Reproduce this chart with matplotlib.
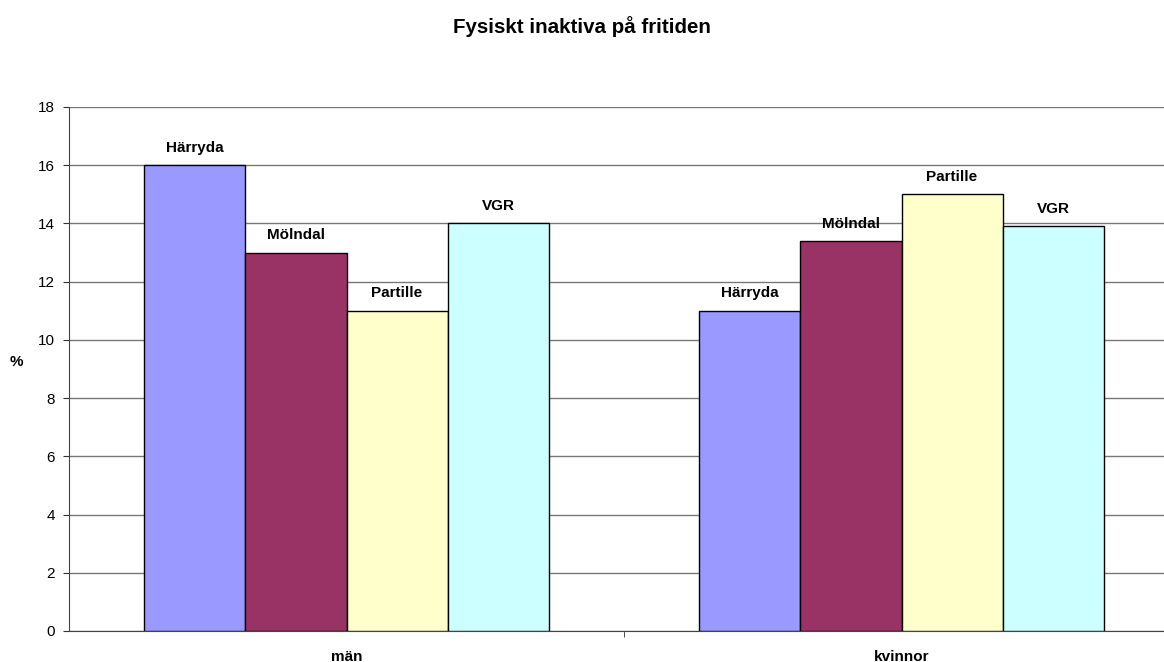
#!/usr/bin/env python3
# -*- coding: utf-8 -*
"""Fysiskt inaktiva på fritiden - grouped bar chart"""

import numpy as np
import matplotlib
matplotlib.use("Agg")
import matplotlib.pyplot as plt

plt.rcParams['font.family'] = ['Liberation Sans', 'DejaVu Sans']

# Data
categories = ["män", "kvinnor"]
seriesNames = ["Härryda", "Mölndal", "Partille", "VGR"]
valHarryda = [16.0, 11.0]
valMolndal = [13.0, 13.4]
valPartille = [11.0, 15.0]
valVGR = [14.0, 13.9]
yTicks = [0, 2, 4, 6, 8, 10, 12, 14, 16, 18]

seriesVals = [valHarryda, valMolndal, valPartille, valVGR]
seriesCols = ["#9999FF", "#993366", "#FFFFCC", "#CCFFFF"]

# Plot
fig = plt.figure(figsize=(11.64, 6.62), dpi=100)
ax = fig.add_axes([69/1164, 1-631/662, 1110/1164, 524/662])

nSer = len(seriesVals)
barW = 0.182
xPos = np.arange(len(categories))
for i in range(nSer):
    offs = (i - (nSer-1)/2)*barW
    bars = ax.bar(xPos + offs, seriesVals[i], width=barW, color=seriesCols[i],
                  edgecolor="black", linewidth=1.0, zorder=3)
    for b in bars:
        ax.annotate(seriesNames[i], (b.get_x() + b.get_width()/2, b.get_height()),
                    xytext=(0, 9.6), textcoords="offset points", ha="center",
                    va="baseline", fontsize=11, fontweight="bold", zorder=4)

ax.set_xlim(-0.5, len(categories) - 0.5)
ax.set_ylim(0, 18)
ax.set_yticks(yTicks)
ax.yaxis.grid(True, color="#777777", linewidth=1.0, zorder=0)
ax.set_axisbelow(True)

ax.set_xticks(xPos)
ax.set_xticklabels(categories, fontsize=11, fontweight="bold")
ax.tick_params(axis="x", length=0, pad=13.5)
ax.set_xticks([0.5], minor=True)
ax.tick_params(axis="x", which="minor", length=4, direction="out", color="#333333")
ax.tick_params(axis="y", length=4, direction="out", labelsize=11, color="#333333", pad=6)

for side in ["top", "right"]:
    ax.spines[side].set_visible(False)
ax.spines["left"].set_color("#444444")
ax.spines["bottom"].set_color("#444444")

fig.text(16/1164, 1-362/662, "%", ha="center", va="center",
         fontsize=11, fontweight="bold")

fig.text(0.5, 1-27/662, "Fysiskt inaktiva på fritiden", ha="center", va="center",
         fontsize=14.8, fontweight="bold")

fig.savefig("out.png", dpi=100)
